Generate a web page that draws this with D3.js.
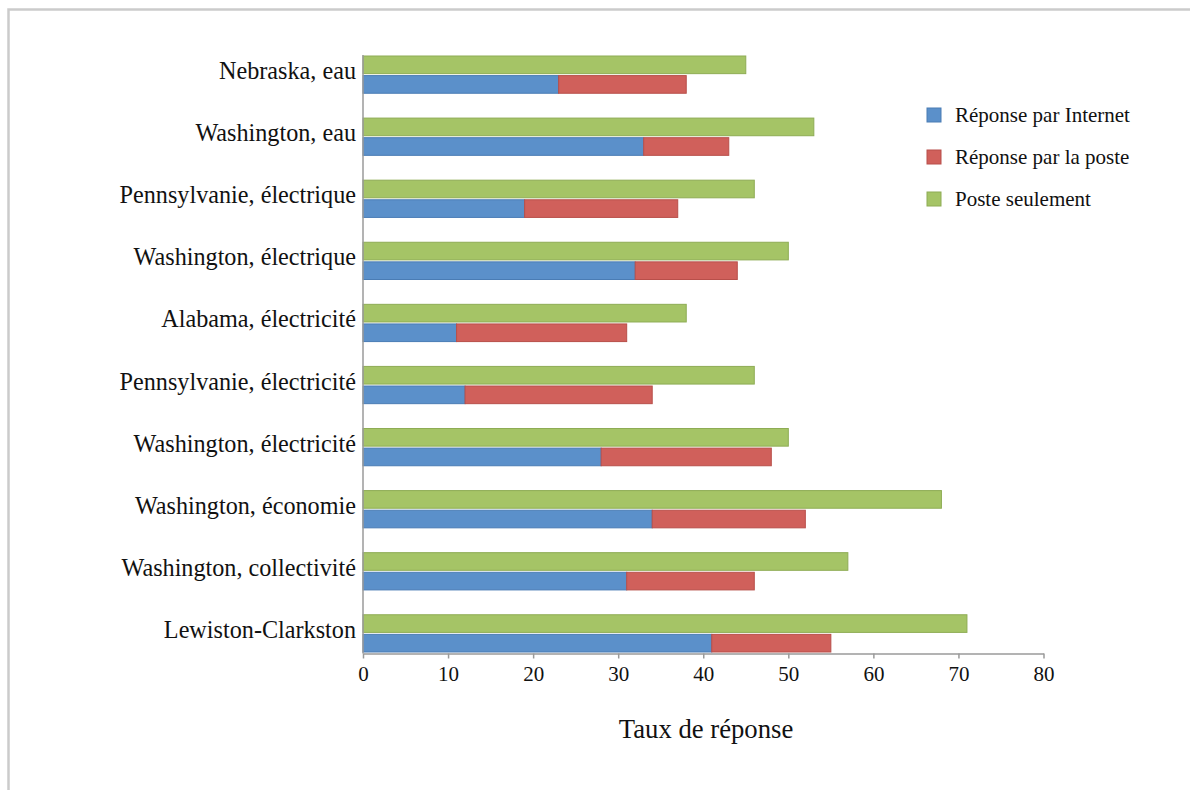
<!DOCTYPE html>
<html>
<head>
<meta charset="utf-8">
<script src="https://cdn.jsdelivr.net/npm/d3@7"></script>
<style>
  html, body { margin: 0; padding: 0; background: #ffffff; }
  svg { display: block; font-family: "Liberation Serif", "Times New Roman", serif; }
</style>
</head>
<body>
<svg id="chart" width="1190" height="790"></svg>
<script>
// Response rates by survey (percent)
const categories = [
  "Nebraska, eau",
  "Washington, eau",
  "Pennsylvanie, électrique",
  "Washington, électrique",
  "Alabama, électricité",
  "Pennsylvanie, électricité",
  "Washington, électricité",
  "Washington, économie",
  "Washington, collectivité",
  "Lewiston-Clarkston"
];
const internet       = [23, 33, 19, 32, 11, 12, 28, 34, 31, 41];
const parLaPoste     = [15, 10, 18, 12, 20, 22, 20, 18, 15, 14];
const posteSeulement = [45, 53, 46, 50, 38, 46, 50, 68, 57, 71];
const xTicks = [0, 10, 20, 30, 40, 50, 60, 70, 80];

const seriesNames = ["Réponse par Internet", "Réponse par la poste", "Poste seulement"];
const fills   = ["#5b90ca", "#d0605b", "#a5c466"];
const strokes = ["#4a7cb4", "#b84f4a", "#8eac54"];

const serif = "Liberation Serif, Times New Roman, serif";
const svg = d3.select("#chart");

// outer frame (runs off the right and bottom edges)
svg.append("rect")
  .attr("x", 8.5).attr("y", 9.5)
  .attr("width", 1200).attr("height", 800)
  .attr("fill", "none")
  .attr("stroke", "#cbcbcb")
  .attr("stroke-width", 2.5);

const x = d3.scaleLinear().domain([0, 80]).range([363, 1043.5]);
const y = d3.scaleBand().domain(categories).range([56, 652]).paddingInner(0.4).paddingOuter(0);
const sub = d3.scaleBand().domain(["seul", "pile"]).range([0, y.bandwidth()]).paddingInner(0.1);

const rows = categories.map((c, i) => ({
  cat: c, internet: internet[i], poste: parLaPoste[i], seul: posteSeulement[i]
}));

// "Poste seulement" bars
svg.append("g").selectAll("rect")
  .data(rows).join("rect")
  .attr("x", x(0))
  .attr("y", d => y(d.cat) + sub("seul"))
  .attr("width", d => x(d.seul) - x(0))
  .attr("height", sub.bandwidth())
  .attr("fill", fills[2]).attr("stroke", strokes[2]).attr("stroke-width", 1);

// stacked Internet + mail responses
const stacked = d3.stack().keys(["internet", "poste"])(rows);
svg.append("g").selectAll("g")
  .data(stacked).join("g")
  .attr("fill", (d, i) => fills[i])
  .attr("stroke", (d, i) => strokes[i])
  .selectAll("rect")
  .data(d => d).join("rect")
  .attr("x", d => x(d[0]))
  .attr("y", d => y(d.data.cat) + sub("pile"))
  .attr("width", d => x(d[1]) - x(d[0]))
  .attr("height", sub.bandwidth())
  .attr("stroke-width", 1);

// x axis
const axisY = 653.5;
const xAxis = svg.append("g")
  .attr("transform", `translate(0,${axisY})`)
  .call(d3.axisBottom(x).tickValues(xTicks).tickSize(5).tickSizeOuter(0).tickPadding(8));
xAxis.select(".domain").attr("stroke", "#9a9a9a").attr("stroke-width", 1.5);
xAxis.selectAll(".tick line").attr("stroke", "#9a9a9a").attr("stroke-width", 1.5);
xAxis.selectAll(".tick text")
  .attr("font-family", serif)
  .attr("font-size", 21).attr("fill", "#111");

// y axis line
svg.append("line")
  .attr("x1", x(0)).attr("x2", x(0))
  .attr("y1", 55).attr("y2", axisY)
  .attr("stroke", "#9a9a9a").attr("stroke-width", 1.5);

// category labels
svg.append("g").selectAll("text")
  .data(categories).join("text")
  .attr("x", 356)
  .attr("y", d => y(d) + y.bandwidth() / 2 - 4)
  .attr("text-anchor", "end")
  .attr("dominant-baseline", "central")
  .attr("font-family", serif)
  .attr("font-size", 24.2)
  .attr("fill", "#111")
  .text(d => d);

// axis title
svg.append("text")
  .attr("x", 706)
  .attr("y", 738)
  .attr("text-anchor", "middle")
  .attr("font-family", serif)
  .attr("font-size", 26.7)
  .attr("fill", "#111")
  .text("Taux de réponse");

// legend
const legend = svg.append("g").selectAll("g")
  .data(seriesNames).join("g")
  .attr("transform", (d, i) => `translate(927,${115 + i * 42})`);
legend.append("rect")
  .attr("x", 0).attr("y", -7).attr("width", 14).attr("height", 14)
  .attr("fill", (d, i) => fills[i]).attr("stroke", (d, i) => strokes[i]);
legend.append("text")
  .attr("x", 28).attr("y", 0)
  .attr("dominant-baseline", "central")
  .attr("font-family", serif)
  .attr("font-size", 21)
  .attr("fill", "#111")
  .text(d => d);
</script>
</body>
</html>
